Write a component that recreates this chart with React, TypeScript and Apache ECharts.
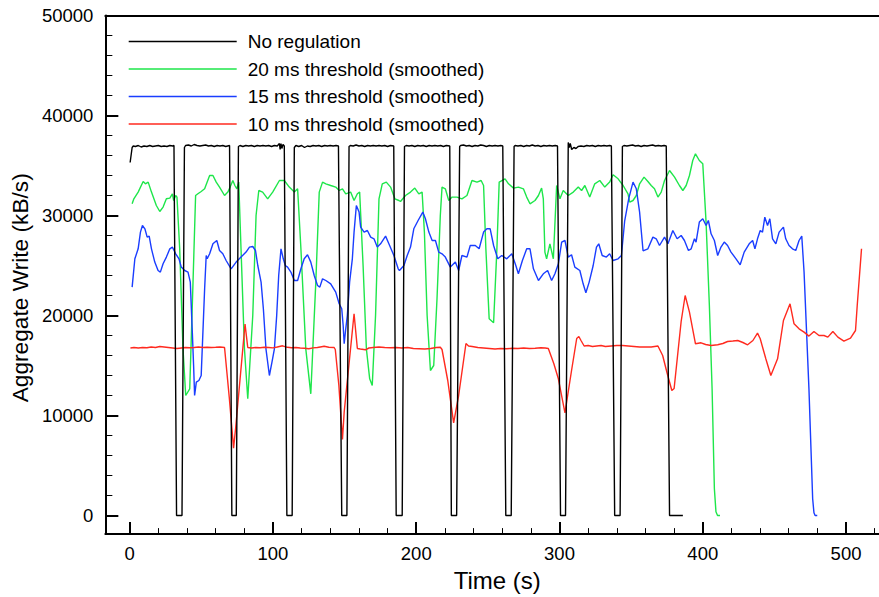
import React, { useEffect, useRef } from "react";
import * as echarts from "echarts";

const FONT = "'Liberation Sans', Arial, Helvetica, sans-serif";

const seriesNames = [
  "No regulation",
  "20 ms threshold (smoothed)",
  "15 ms threshold (smoothed)",
  "10 ms threshold (smoothed)",
];
const seriesColors = ["#000000", "#1ee64a", "#1a3dff", "#ff2a1f"];

const xMajorTicks = [0, 100, 200, 300, 400, 500];
const yMajorTicks = [0, 10000, 20000, 30000, 40000, 50000];

const noRegulation: [number, number][] = [
  [0.3, 35300], [1.7, 36800], [2.5, 36950], [4, 36900], [6, 37000], [8, 36850], [10, 36950], [12, 36900],
  [14, 37000], [16, 36900], [18, 36950], [20, 37000], [22, 36900], [24, 36950], [26, 36900], [28, 37000],
  [30, 36950], [30.9, 37000], [32.7, 0], [36.5, 0], [38.2, 36800],
  [39, 37000], [41, 37050], [43, 36950], [45, 37100], [47, 37000], [49, 36950], [51, 37000], [53, 37050],
  [55, 36950], [57, 37000], [59, 36900], [61, 37000], [63, 36950], [65, 37000], [67, 36900], [69.7, 37000],
  [71.3, 0], [74.4, 0], [75.9, 36900],
  [77, 37000], [79, 36900], [81, 37000], [83, 36950], [85, 37000], [87, 36900], [89, 37000], [91, 36950],
  [93, 37000], [95, 36950], [97, 37000], [99, 36900], [101, 37000], [103, 36950], [104.5, 37200], [105, 36600],
  [105.6, 37200], [106.2, 36700], [107, 37100], [107.9, 36950],
  [109.7, 0], [113.4, 0], [114.9, 36800],
  [116, 37000], [118, 36900], [120, 37000], [122, 36800], [124, 36950], [126, 36900], [128, 37000], [130, 36950],
  [132, 37000], [134, 36900], [136, 37000], [138, 36950], [140, 37000], [142, 36950], [144, 37000], [145.7, 36950],
  [148, 0], [151.6, 0], [153.1, 36900],
  [154, 37000], [156, 36950], [158, 37050], [160, 36950], [162, 37000], [164, 36900], [166, 37000], [168, 36950],
  [170, 37000], [172, 36950], [174, 37000], [176, 36950], [178, 37000], [180, 36900], [182, 37000], [184.3, 36950],
  [186, 0], [190.2, 0], [191.8, 36900],
  [193, 37000], [195, 36950], [197, 37000], [199, 36900], [201, 37000], [203, 36950], [205, 37000], [207, 36900],
  [209, 37000], [211, 36950], [213, 37000], [215, 36950], [217, 37000], [219, 36900], [221, 37000], [223.4, 36950],
  [224.5, 0], [228.2, 0], [230.3, 36900],
  [231, 37000], [233, 37050], [235, 36950], [237, 37000], [239, 36900], [241, 37000], [243, 36950], [245, 37050],
  [247, 37000], [249, 36900], [251, 37000], [253, 36950], [255, 37000], [257, 36950], [259, 37000], [260.4, 36950],
  [262.5, 0], [266.3, 0], [268.3, 36900],
  [269, 37000], [271, 36950], [273, 37000], [275, 36900], [277, 37000], [279, 36950], [281, 37050], [283, 36950],
  [285, 37000], [287, 36900], [289, 37000], [291, 36950], [293, 37000], [295, 36950], [297, 37000], [298.6, 36950],
  [300.7, 0], [304.2, 0], [306.1, 37300],
  [306.8, 36800], [307.5, 37200], [308.5, 36600], [310, 36800], [311.5, 36700], [313, 36900], [315, 36950], [317, 36900],
  [319, 37000], [321, 36950], [323, 37000], [325, 36900], [327, 37000], [329, 36950], [331, 37000], [333, 36950],
  [335, 37000], [336.2, 36950],
  [338.5, 0], [342.3, 0], [343.9, 36900],
  [345, 37000], [347, 36950], [349, 37000], [351, 37050], [353, 36950], [355, 37000], [357, 36900], [359, 37000],
  [361, 36950], [363, 37000], [365, 37050], [367, 36950], [369, 37000], [371, 36950], [373, 37000], [374.5, 36950],
  [376.8, 0], [386.1, 0],
];

const threshold20: [number, number][] = [
  [1.7, 31170], [2.9, 31670], [5.9, 32340], [9.4, 33400], [11.0, 33170], [12.9, 33340], [15.2, 32340], [18.6, 31000],
  [21.0, 30400], [23.3, 30840], [25.6, 31670], [28.0, 31740], [29.8, 32170], [30.7, 31500], [32.1, 32000], [33.0, 31840],
  [34.9, 26670], [37.2, 16670], [39.1, 12000], [41.9, 12670], [44.2, 23340], [46.0, 32000], [47.6, 32170], [49.9, 32400],
  [52.3, 32670], [55.8, 34000], [58.1, 34000], [60.4, 33340], [62.7, 32840], [66.2, 32000], [68.5, 32340], [70.1, 32840],
  [72.0, 33500], [73.4, 33000], [74.8, 32670], [76.1, 33340], [77.7, 26670], [80.1, 16670], [82.4, 11670], [85.9, 20000],
  [88.2, 30000], [90.1, 32500], [92.8, 32340], [96.3, 31670], [99.8, 32340], [104.5, 33500], [107.9, 33500], [111.4, 32840],
  [114.9, 32340], [117.2, 32670], [119.5, 26670], [122.9, 16670], [126.4, 12170], [129.9, 23340], [132.3, 32340], [134.6, 33340],
  [136.9, 33170], [140.3, 33000], [143.8, 32840], [146.2, 32500], [148.5, 32670], [150.8, 32170], [154.2, 32340], [156.6, 31500],
  [158.9, 32170], [160.5, 32340], [162.9, 25000], [165.2, 16670], [167.5, 13670], [169.3, 13000], [171.6, 20000], [174.0, 31670],
  [176.3, 33170], [179.1, 33340], [182.1, 32840], [185.1, 31670], [187.9, 31500], [189.0, 31400], [192.5, 32000], [196.0, 32340],
  [199.0, 32740], [201.8, 32170], [204.1, 32340], [205.7, 28340], [207.6, 20000], [209.9, 14500], [212.2, 15000], [214.5, 21670],
  [216.8, 30000], [218.0, 32840], [220.3, 32670], [222.7, 31500], [225.0, 31840], [228.4, 31840], [231.9, 31670], [235.4, 32000],
  [238.9, 33500], [242.4, 33340], [245.3, 33500], [247.0, 33000], [248.6, 26670], [250.9, 19670], [254.0, 19270], [256.3, 26670],
  [257.9, 33340], [262.0, 33670], [264.4, 33170], [267.9, 32740], [271.3, 32840], [274.8, 32670], [277.1, 31840], [279.4, 31170],
  [282.9, 31500], [285.3, 32000], [287.5, 32740], [288.7, 31670], [289.8, 26340], [291.0, 25670], [293.3, 27170], [295.7, 25670],
  [298.0, 33000], [300.3, 31670], [302.6, 32500], [306.1, 32000], [309.6, 32340], [313.1, 32840], [315.4, 32500], [317.7, 33000],
  [321.1, 31840], [324.6, 33170], [328.1, 33500], [331.6, 32840], [335.0, 33340], [337.4, 34070], [340.9, 33670], [344.4, 33000],
  [347.8, 32170], [349.0, 31340], [351.3, 31500], [353.6, 32000], [355.9, 33170], [359.0, 33840], [361.7, 33400], [364.0, 33000],
  [366.3, 32670], [368.7, 31840], [371.0, 32340], [373.3, 33500], [376.8, 34500], [380.3, 33840], [383.7, 33000], [386.1, 32500],
  [388.4, 33000], [390.7, 34000], [393.0, 35500], [394.9, 36170], [397.6, 35500], [400.0, 35170], [402.3, 29340], [404.6, 21000],
  [406.5, 12670], [408.1, 2670], [409.2, 370], [410.3, 0], [412.0, 0],
];

const threshold15: [number, number][] = [
  [1.7, 22840], [3.6, 25670], [5.9, 26670], [7.5, 28340], [8.9, 29000], [10.6, 28670], [12.2, 27840], [13.6, 27940],
  [15.2, 26670], [17.5, 25340], [19.8, 24500], [21.4, 24340], [23.3, 25170], [25.6, 25840], [28.0, 26670], [29.8, 26840],
  [32.1, 26170], [34.4, 25670], [36.0, 24840], [38.4, 24500], [40.7, 24340], [42.3, 23340], [43.7, 18340], [44.6, 15000],
  [45.3, 12000], [46.5, 13340], [48.3, 13500], [49.9, 14000], [51.1, 18340], [52.3, 22670], [53.4, 26000], [54.1, 25670],
  [55.8, 26170], [58.1, 27170], [60.8, 27500], [62.7, 26500], [65.0, 26170], [67.3, 25500], [70.8, 24670], [74.3, 25340],
  [77.7, 25840], [81.2, 26340], [83.6, 26840], [85.9, 26900], [87.8, 26500], [89.4, 25000], [91.7, 23340], [93.3, 20670],
  [95.1, 16670], [97.5, 14000], [99.3, 15340], [101.0, 16670], [102.6, 20000], [104.0, 24000], [105.6, 26670], [107.2, 25670],
  [108.6, 25000], [110.2, 24840], [112.5, 24340], [114.9, 23500], [117.2, 23500], [119.5, 24670], [121.8, 25670], [124.1, 26070],
  [126.4, 25340], [128.8, 24000], [131.1, 23000], [132.7, 22840], [134.6, 23670], [136.9, 23500], [140.3, 23170], [143.8, 22340],
  [146.2, 21170], [148.0, 20670], [149.0, 19000], [149.7, 17170], [150.8, 18670], [151.9, 20000], [153.5, 23340], [155.4, 25670],
  [156.6, 28340], [158.2, 31000], [160.1, 30340], [161.2, 28840], [163.6, 28340], [165.9, 28500], [168.2, 27840], [170.5, 27670],
  [172.8, 26840], [175.1, 27170], [178.6, 27940], [180.9, 27170], [184.4, 26000], [187.4, 24670], [188.3, 24500], [191.4, 25000],
  [193.7, 26000], [196.0, 26840], [198.3, 28670], [201.3, 29500], [204.6, 30340], [206.4, 29670], [208.8, 28340], [211.1, 27500],
  [213.4, 27500], [215.7, 26340], [218.0, 26170], [220.3, 25840], [223.8, 24840], [227.3, 25340], [229.6, 24500], [231.9, 26000],
  [235.4, 25840], [237.7, 27000], [241.2, 27000], [243.9, 26670], [247.0, 28340], [249.3, 28670], [251.6, 28670], [254.0, 27000],
  [256.9, 25670], [259.7, 26000], [263.2, 25670], [266.7, 26170], [269.5, 25000], [271.3, 24170], [274.1, 25500], [277.1, 26670],
  [279.4, 26670], [281.8, 24670], [285.3, 23500], [288.7, 24170], [291.7, 24500], [294.5, 23500], [296.8, 24170], [299.2, 25170],
  [301.5, 27340], [303.8, 27500], [306.1, 25840], [308.4, 26070], [310.7, 24840], [314.2, 24500], [316.5, 23170], [318.4, 22270],
  [320.7, 23340], [323.5, 25000], [325.8, 26840], [327.4, 27170], [329.8, 26000], [332.7, 25840], [335.0, 26170], [337.4, 25500],
  [340.9, 25670], [343.2, 26000], [345.5, 29470], [348.3, 31670], [351.3, 33340], [353.6, 32670], [355.9, 30340], [358.3, 26470],
  [361.7, 26670], [365.2, 27840], [367.5, 27670], [369.8, 27000], [373.3, 27840], [375.7, 27170], [379.1, 28500], [382.1, 27670],
  [384.9, 28000], [387.2, 27500], [390.0, 26500], [391.9, 26670], [394.2, 27670], [395.3, 27340], [397.6, 29340], [400.0, 29670],
  [402.3, 29000], [403.9, 29500], [405.8, 28170], [408.1, 27500], [410.4, 26000], [412.7, 26840], [415.0, 27340], [417.3, 27000],
  [419.7, 26340], [423.2, 25670], [426.1, 25070], [428.9, 26340], [432.4, 27170], [434.8, 27500], [436.4, 26670], [438.2, 27670],
  [440.1, 28500], [441.7, 28340], [443.3, 29840], [445.2, 29000], [446.8, 29670], [448.7, 27670], [451.0, 27170], [453.3, 28340],
  [456.3, 28840], [457.9, 27670], [460.2, 27000], [462.6, 26670], [464.9, 26500], [467.2, 27500], [469.1, 27940], [470.7, 24340],
  [474.1, 12670], [476.7, 1670], [477.6, 270], [478.4, 0], [479.9, 0],
];

const threshold10: [number, number][] = [
  [0.5, 16750], [3, 16800], [6, 16750], [9, 16800], [12, 16780], [15, 16850], [18, 16800], [21, 16900],
  [24, 16850], [27, 16800], [30, 16750], [33, 16700], [36, 16750], [39, 16800], [42, 16780], [45, 16800],
  [48, 16850], [51, 16800], [54, 16830], [57, 16800], [60, 16820], [63, 16850], [66.2, 16800], [69.5, 11800],
  [72.5, 6740], [73.9, 8670], [80.5, 19140], [82.4, 16800], [85, 16750], [88, 16800], [91, 16780], [94, 16820],
  [97, 16800], [100, 16760], [103, 16850], [106.7, 16970], [110, 16820], [113, 16780], [116, 16800], [119, 16750],
  [122, 16720], [125, 16670], [128, 16760], [131, 16800], [134, 16880], [135.7, 16920], [139, 16820], [142.7, 16800],
  [143.5, 16600], [146, 13000], [148.5, 7600], [149.7, 10340], [156.6, 20170], [158.9, 16700], [161, 16650], [164.5, 16570],
  [167, 16750], [170, 16800], [174, 16850], [178, 16800], [182, 16780], [186, 16800], [190, 16750], [194, 16800],
  [198, 16700], [202, 16680], [206, 16650], [210, 16700], [214, 16800], [216.8, 16820], [218, 16600], [222, 13500],
  [226.1, 9270], [229.6, 12000], [234.7, 17200], [236.5, 16950], [239, 16900], [243, 16800], [247, 16750], [251, 16700],
  [255, 16650], [259, 16700], [263, 16680], [267, 16720], [271, 16700], [275, 16750], [279, 16700], [283, 16730],
  [287, 16780], [290, 16750], [292.2, 16700], [296, 15200], [299.2, 13670], [303.8, 10270], [308.4, 14500], [312, 17700],
  [313.5, 17900], [315, 17500], [317.2, 16950], [320, 17000], [323, 16900], [326, 16950], [329, 17000], [332, 16900],
  [336, 16950], [340, 17000], [344, 17000], [348, 16950], [352, 16900], [356, 16850], [360, 16850], [364, 16850],
  [368.7, 16950], [372, 16000], [375, 14300], [378.4, 12500], [380, 12700], [384.9, 19400], [387.7, 22000], [390.7, 20340],
  [394.9, 17170], [398.8, 17270], [402, 17100], [405.8, 17000], [410.4, 17070], [414, 17200], [417.3, 17400], [421, 17450],
  [424.4, 17500], [428, 17300], [431.3, 17070], [435, 17500], [438.2, 18240], [440.1, 17670], [444, 15670], [447.5, 14000],
  [452.2, 15670], [456.3, 19500], [460.9, 21170], [463.7, 19170], [467.2, 18670], [470.7, 18340], [474.1, 17940], [477.6, 18400],
  [481.1, 18000], [484.6, 18000], [487.3, 17840], [490.8, 18400], [494.3, 17840], [498.5, 17440], [503.1, 17740], [506.6, 18500],
  [507.8, 21000], [510.8, 26670],
];

const seriesData = [noRegulation, threshold20, threshold15, threshold10];

const X_MIN = -17;
const X_MAX = 523;
const Y_MIN = -1860;
const Y_MAX = 50000;

function minorBetween(major: number[], parts: number): number[] {
  const out: number[] = [];
  for (let i = 0; i < major.length; i++) {
    const step = i + 1 < major.length ? major[i + 1] - major[i] : major[1] - major[0];
    for (let k = 1; k < parts; k++) out.push(major[i] + (step * k) / parts);
  }
  return out;
}

export default function App() {
  const ref = useRef<HTMLDivElement>(null);

  useEffect(() => {
    if (!ref.current) return;
    const chart = echarts.init(ref.current, undefined, { renderer: "svg" });
    const xMinor = minorBetween(xMajorTicks, 5).filter((v) => v <= X_MAX);
    const yMinor = minorBetween(yMajorTicks, 5).filter((v) => v < Y_MAX);
    const labelStyle = { color: "#000", fontFamily: FONT, fontSize: 18.5 };

    chart.setOption({
      animation: false,
      backgroundColor: "#ffffff",
      grid: { left: 102, right: 0, top: 15.5, bottom: 61.7, containLabel: false },
      legend: {
        orient: "vertical",
        left: 128,
        top: 32,
        padding: 0,
        itemWidth: 108,
        itemHeight: 14,
        itemGap: 8.5,
        data: seriesNames,
        itemStyle: { opacity: 0 },
        lineStyle: { width: 1.4 },
        textStyle: { color: "#000", fontFamily: FONT, fontSize: 19, padding: [0, 0, 0, 6] },
      },
      xAxis: [
        {
          type: "value",
          min: X_MIN,
          max: X_MAX,
          position: "bottom",
          axisLine: { show: true, onZero: false, lineStyle: { color: "#000", width: 2 } },
          axisTick: { show: true, inside: true, length: 12, lineStyle: { color: "#000", width: 2 }, customValues: xMajorTicks },
          axisLabel: { ...labelStyle, margin: 10, customValues: xMajorTicks, formatter: (v: number) => String(v) },
          splitLine: { show: false },
          name: "Time (s)",
          nameLocation: "middle",
          nameGap: 33,
          nameTextStyle: { color: "#000", fontFamily: FONT, fontSize: 24, padding: [0, 0, 0, 10] },
        },
        {
          type: "value",
          min: X_MIN,
          max: X_MAX,
          position: "bottom",
          axisLine: { show: false, onZero: false },
          axisTick: { show: true, inside: true, length: 6, lineStyle: { color: "#000", width: 1 }, customValues: xMinor },
          axisLabel: { show: false },
          splitLine: { show: false },
        },
        {
          type: "value",
          min: X_MIN,
          max: X_MAX,
          position: "top",
          axisLine: { show: true, onZero: false, lineStyle: { color: "#000", width: 2 } },
          axisTick: { show: false },
          axisLabel: { show: false },
          splitLine: { show: false },
        },
      ],
      yAxis: [
        {
          type: "value",
          min: Y_MIN,
          max: Y_MAX,
          position: "left",
          axisLine: { show: true, onZero: false, lineStyle: { color: "#000", width: 2 } },
          axisTick: { show: true, inside: true, length: 13, lineStyle: { color: "#000", width: 2 }, customValues: yMajorTicks },
          axisLabel: { ...labelStyle, margin: 12, customValues: yMajorTicks, formatter: (v: number) => String(v) },
          splitLine: { show: false },
          name: "Aggregate Write (kB/s)",
          nameLocation: "middle",
          nameGap: 67,
          nameTextStyle: { color: "#000", fontFamily: FONT, fontSize: 22.7, padding: [0, 26, 0, 0] },
        },
        {
          type: "value",
          min: Y_MIN,
          max: Y_MAX,
          position: "left",
          axisLine: { show: false, onZero: false },
          axisTick: { show: true, inside: true, length: 7, lineStyle: { color: "#000", width: 1 }, customValues: yMinor },
          axisLabel: { show: false },
          splitLine: { show: false },
        },
      ],
      series: seriesNames.map((name, i) => ({
        name,
        type: "line",
        xAxisIndex: 0,
        yAxisIndex: 0,
        data: seriesData[i],
        symbol: "none",
        showSymbol: false,
        z: i === 0 ? 5 : 3,
        lineStyle: { color: seriesColors[i], width: 1.4 },
        itemStyle: { color: seriesColors[i] },
      })),
    });

    return () => chart.dispose();
  }, []);

  return (
    <div
      ref={ref}
      style={{ position: "absolute", left: 0, top: 0, width: 879, height: 597, background: "#fff" }}
    />
  );
}
